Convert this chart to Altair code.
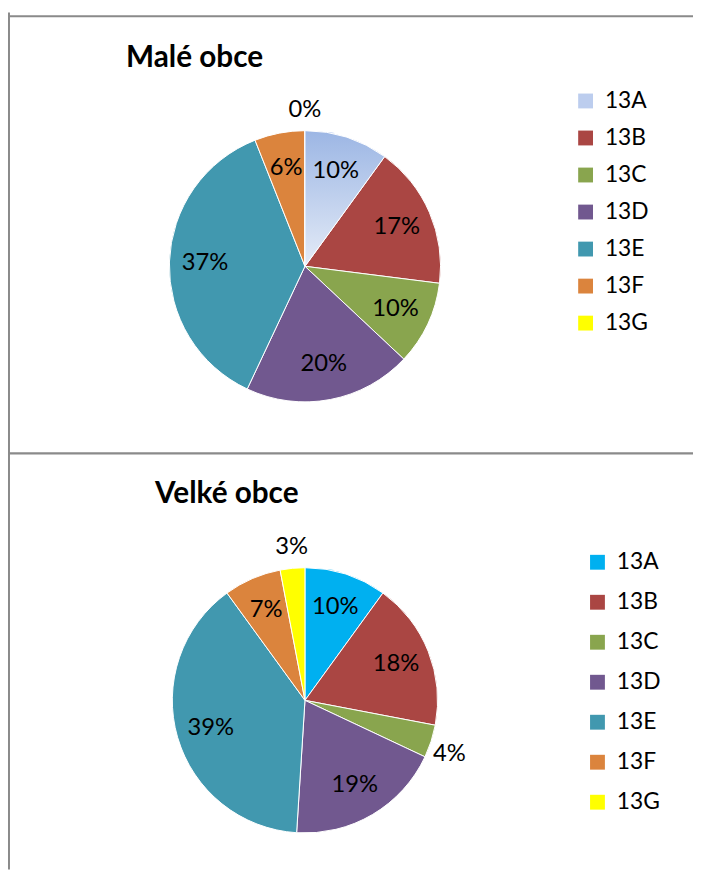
import altair as alt
import pandas as pd

categories = ["13A", "13B", "13C", "13D", "13E", "13F", "13G"]
male_obce = [10, 17, 10, 20, 37, 6, 0]
velke_obce = [10, 18, 4, 19, 39, 7, 3]
titles = ["Malé obce", "Velké obce"]

colors_male = ["#BCCDEE", "#AA4643", "#89A54E", "#71588F", "#4198AF", "#DB843D", "#FFFF00"]
colors_velke = ["#00B0F0", "#AA4643", "#89A54E", "#71588F", "#4198AF", "#DB843D", "#FFFF00"]

W, H = 692, 866
LINE = "#8A8A8A"
FONT = "Lato"


def pie(title, values, colors, cx, cy, R, tx, ty, lx, ly, rowpad, gradient=False):
    df = pd.DataFrame({"cat": categories, "v": values,
                       "lab": [f"{v}%" for v in values]})
    theta = alt.Theta("v:Q", stack=True)
    order = alt.Order("cat:N", sort="ascending")
    px, py = alt.value(cx), alt.value(cy)

    arcs = alt.Chart(df).mark_arc(outerRadius=R, stroke="white", strokeWidth=1).encode(
        theta=theta, order=order, x=px, y=py,
        color=alt.Color("cat:N", scale=alt.Scale(domain=categories, range=colors),
                        legend=alt.Legend(orient="none", legendX=lx, legendY=ly, title=None,
                                          symbolType="square", symbolSize=225,
                                          symbolStrokeWidth=0, labelFont=FONT,
                                          labelFontSize=23, labelColor="black",
                                          rowPadding=rowpad, labelOffset=8, padding=0)),
    )
    layers = [arcs]
    if gradient:
        grad = alt.Chart(df).transform_filter(alt.datum.cat == "13A").mark_arc(
            outerRadius=R, stroke="white", strokeWidth=1,
            fill=alt.Gradient(gradient="linear", x1=0, y1=0, x2=0, y2=1,
                              stops=[alt.GradientStop(color="#9CB6E4", offset=0),
                                     alt.GradientStop(color="#E4EBF7", offset=1)]),
        ).encode(theta=theta, order=order, x=px, y=py)
        layers.append(grad)

    base = alt.Chart(df).transform_window(
        cum="sum(v)", sort=[alt.SortField("cat", order="ascending")], frame=[None, 0]
    ).transform_calculate(
        mid="datum.cum - datum.v / 2",
        ang="2 * PI * (datum.cum - datum.v / 2) / 100",
    )
    enc = dict(theta=alt.Theta("mid:Q", stack=None), x=px, y=py, text="lab:N")
    # labels inside the slices
    layers.append(base.transform_filter("datum.v >= 5").mark_text(
        font=FONT, fontSize=24, color="black", radius=round(0.74 * R)).encode(**enc))
    # small slices: labels outside, above the pie
    layers.append(base.transform_filter("datum.v < 5 && cos(datum.ang) > 0.7").mark_text(
        font=FONT, fontSize=24, color="black", radius=R + 9,
        align="center", baseline="bottom").encode(**enc))
    # small slices: labels outside, to the right
    layers.append(base.transform_filter("datum.v < 5 && cos(datum.ang) <= 0.7").mark_text(
        font=FONT, fontSize=24, color="black", radius=R + 2,
        align="left", baseline="top").encode(**enc))

    tdf = pd.DataFrame({"t": [title]})
    ttl = alt.Chart(tdf).mark_text(font=FONT, fontSize=30, fontWeight="bold",
                                   align="center", baseline="alphabetic", color="black").encode(
        text="t:N", x=alt.value(tx), y=alt.value(ty))
    layers.append(ttl)
    return alt.layer(*layers)


dummy = pd.DataFrame({"a": [0]})
frame = alt.layer(
    alt.Chart(dummy).mark_rule(color=LINE, strokeWidth=2).encode(
        x=alt.value(1), y=alt.value(0), y2=alt.value(H)),
    alt.Chart(dummy).mark_rule(color=LINE, strokeWidth=2).encode(
        x=alt.value(0), x2=alt.value(W), y=alt.value(4)),
    alt.Chart(dummy).mark_rule(color=LINE, strokeWidth=2.2).encode(
        x=alt.value(0), x2=alt.value(W), y=alt.value(445.5)),
)

top = pie(titles[0], male_obce, colors_male, 300, 256.5, 137, 188.5, 55,
          572, 78, 13.4, gradient=True)
bottom = pie(titles[1], velke_obce, colors_velke, 300, 695, 134, 221, 495.5,
             584, 544, 16.4)

chart = alt.layer(frame, top, bottom).resolve_scale(color="independent").properties(
    width=W, height=H, padding=0,
    autosize=alt.AutoSizeParams(type="none"),
).configure_view(stroke=None)

chart.save("out.html", embed_options={"renderer": "svg", "actions": False})
